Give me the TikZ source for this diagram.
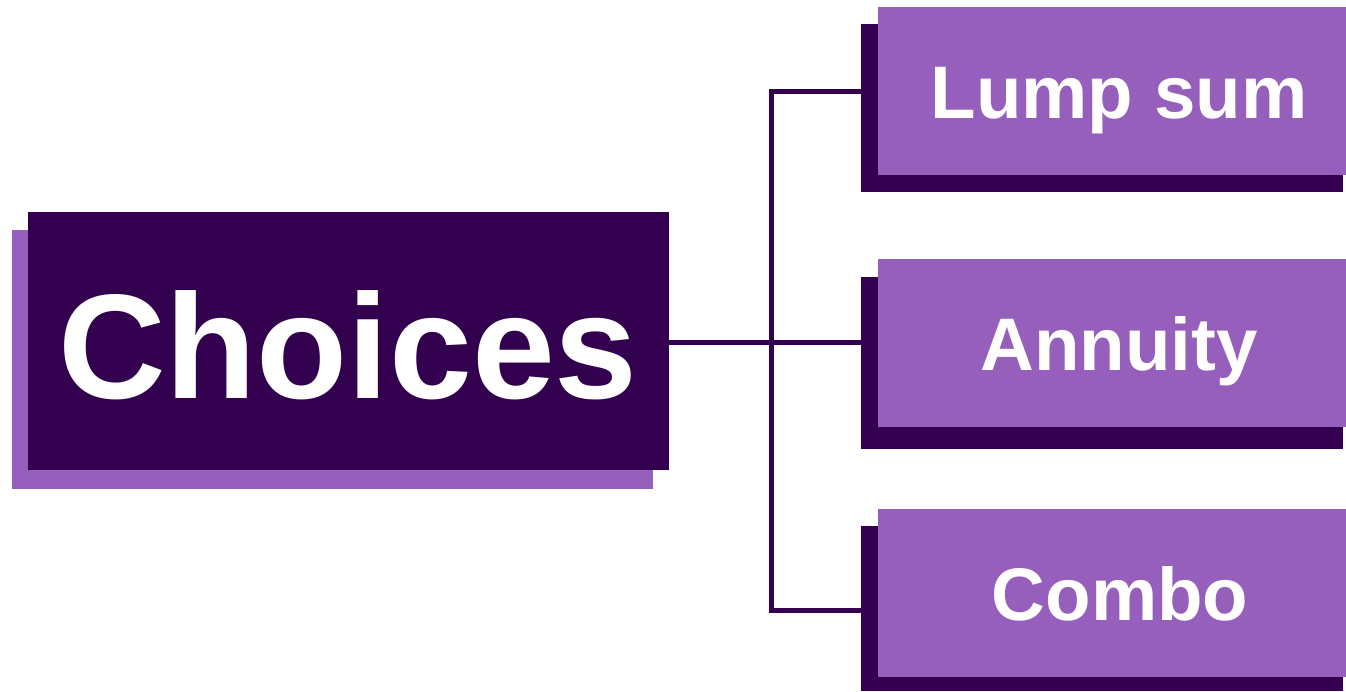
\documentclass[tikz,border=0pt]{standalone}
\usepackage{fontspec}
\setmainfont{Liberation Sans}
\definecolor{darkp}{HTML}{330050}
\definecolor{lightp}{HTML}{955FBB}
\begin{document}
\begin{tikzpicture}[x=1pt,y=-1pt,
  boxbase/.style={rectangle, inner sep=0pt, outer sep=0pt, draw=none},
  darkbox/.style={boxbase, fill=darkp},
  lightbox/.style={boxbase, fill=lightp},
  bigtext/.style={anchor=base, inner sep=0pt, text=white, font=\fontsize{149}{149}\selectfont\bfseries},
  labeltext/.style={anchor=base, inner sep=0pt, text=white, font=\fontsize{74.5}{74.5}\selectfont\bfseries},
  link/.style={draw=darkp, line width=5pt}]
\useasboundingbox (0,0) rectangle (1346,691);
% connectors
\coordinate (j1) at (771,91);
\coordinate (j2) at (771,342);
\coordinate (j3) at (771,610);
% Choices
\node[lightbox, minimum width=641pt, minimum height=258.5pt] (chsh) at (332.5,359.25) {};
\node[darkbox, minimum width=641pt, minimum height=258pt] (ch) at (348.5,341) {};
\node[bigtext] (cht) at (348,398) {Choices};
% Lump sum
\node[darkbox, minimum width=482pt, minimum height=168pt] (lsh) at (1102,108) {};
\node[lightbox, minimum width=468pt, minimum height=168pt] (l) at (1112,91) {};
\node[labeltext] (lt) at (1119,118) {Lump sum};
% Annuity
\node[darkbox, minimum width=482pt, minimum height=172pt] (ash) at (1102,363) {};
\node[lightbox, minimum width=468pt, minimum height=168pt] (a) at (1112,343) {};
\node[labeltext] (at) at (1119,370) {Annuity};
% Combo
\node[darkbox, minimum width=482pt, minimum height=165pt] (csh) at (1102,608.5) {};
\node[lightbox, minimum width=468pt, minimum height=168pt] (c) at (1112,593) {};
\node[labeltext] (ct) at (1120,620) {Combo};
% lines
\draw[link] (ch.east |- j2) -- (j2 -| ash.west);
\draw[link] (lsh.west |- j1) -- (j1) -- (j3) -- (csh.west |- j3);
\end{tikzpicture}
\end{document}
